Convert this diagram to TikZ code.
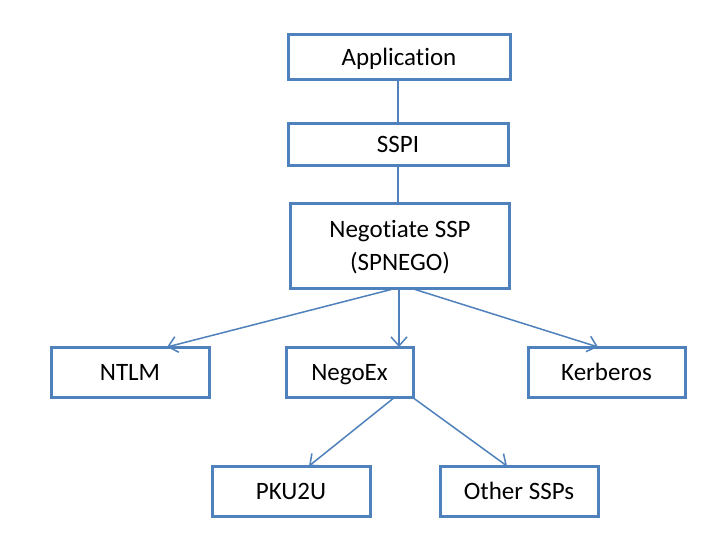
\documentclass[tikz,border=0pt]{standalone}
\usepackage{fontspec}
\setmainfont[Ligatures=NoCommon]{Carlito}
\usetikzlibrary{arrows.meta}
\definecolor{boxblue}{HTML}{4F81BD}
\begin{document}
\begin{tikzpicture}[x=1pt,y=-1pt,
  box/.style={draw=boxblue,line width=3pt,fill=white,inner sep=0pt,outer sep=0pt,
    font=\fontsize{25}{33}\selectfont,align=center,text height=16pt,text depth=0pt},
  conn/.style={draw=boxblue,line width=1.5pt},
  arr/.style={conn,-{Straight Barb[length=9pt,width=16pt,line width=1.5pt]}}]
\useasboundingbox[fill=white] (0,0) rectangle (721,542);
\node[box,minimum width=222pt,minimum height=45pt] (app) at (399,57) {Application};
\node[box,minimum width=220pt,minimum height=42pt] (sspi) at (398,144) {SSPI};
\node[box,minimum width=219pt,minimum height=85pt,text height=53pt,text depth=5pt] (neg) at (400,246) {Negotiate SSP\\(SPNEGO)};
\node[box,minimum width=158pt,minimum height=50pt] (ntlm) at (130,372) {NTLM};
\node[box,minimum width=127pt,minimum height=50pt] (negoex) at (349.5,372) {NegoEx};
\node[box,minimum width=157pt,minimum height=50pt] (kerb) at (606.5,372) {Kerberos};
\node[box,minimum width=158pt,minimum height=50pt] (pku) at (291,491) {PKU2U};
\node[box,minimum width=158pt,minimum height=50pt] (other) at (519,491) {Other SSPs};
\draw[conn] (app.south -| sspi.north) -- (sspi.north);
\draw[conn] (sspi.south) -- (sspi.south |- neg.north);
\draw[arr] ([xshift=-5pt]neg.south) -- ([xshift=37pt]ntlm.north);
\draw[arr] ([xshift=-1pt]neg.south) -- ([xshift=49.5pt]negoex.north);
\draw[arr] ([xshift=12pt]neg.south) -- ([xshift=-8.5pt]kerb.north);
\draw[arr] ([xshift=45.5pt]negoex.south) -- ([xshift=18pt]pku.north);
\draw[arr] ([xshift=62.5pt]negoex.south) -- ([xshift=-12pt]other.north);
\end{tikzpicture}
\end{document}
